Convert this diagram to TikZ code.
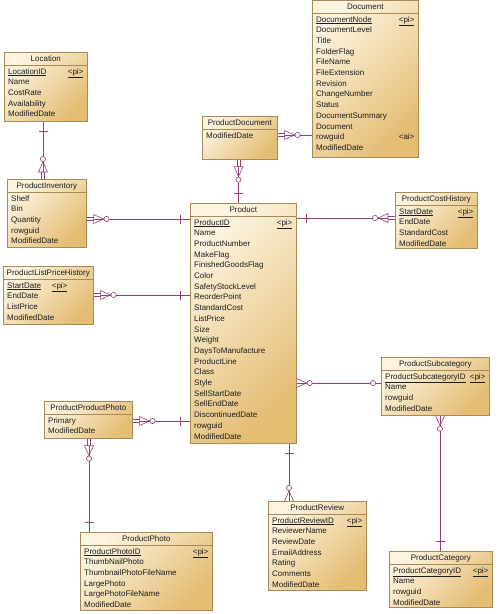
\documentclass[tikz,border=0pt]{standalone}
\usepackage{fontspec}
\newfontfamily\erdfont{Liberation Sans}
\usepackage{tikz}
\usetikzlibrary{calc}

\definecolor{entlight}{RGB}{252,244,224}
\definecolor{entdark}{RGB}{228,188,114}
\definecolor{entborder}{RGB}{168,138,88}
\definecolor{enttext}{RGB}{30,30,30}
\definecolor{relcol}{RGB}{150,62,112}

\tikzset{
  entbox/.style={
    draw=entborder, line width=0.6pt, anchor=north west, inner sep=0pt,
    top color=entlight, bottom color=entdark, shading angle=45
  },
  enttitle/.style={
    font=\erdfont\fontsize{8}{10}\selectfont, text=enttext,
    inner sep=0pt, text height=5.8pt, text depth=1.7pt
  },
  entrow/.style={
    font=\erdfont\fontsize{8}{10}\selectfont, text=enttext, anchor=west,
    inner sep=0pt, text height=5.8pt, text depth=1.7pt
  },
  entkey/.style={entrow, anchor=east},
  entsep/.style={draw=entborder, line width=0.6pt},
  relline/.style={draw=relcol, line width=0.6pt},
  depmany/.pic={
    \draw[relline] (0,-1.4) -- (7,-1.4) (0,1.4) -- (7,1.4);
    \draw[relline] (7,-4.5) -- (7,4.5) -- (17,0) -- cycle;
    \draw[relline, fill=white] (20,0) circle (2.6pt);
  },
  manyend/.pic={
    \draw[relline] (0,-4.5) -- (10,0) -- (0,4.5);
    \draw[relline, fill=white] (13,0) circle (2.6pt);
  },
  oneend/.pic={\draw[relline] (10,-4.5) -- (10,4.5);},
  optend/.pic={\draw[relline, fill=white] (8,0) circle (2.6pt);},
}

\begin{document}
\begin{tikzpicture}[x=1pt, y=-1pt]
  \useasboundingbox[fill=white] (0,0) rectangle (500,614);

  % ── Location ──
  \node[entbox, minimum width=83pt, minimum height=69pt] (loc) at (4,52) {};
  \node[enttitle] (loc-t) at ($(loc.north)+(0,7)$) {Location};
  \draw[entsep] ($(loc.north west)+(0,13.5)$) -- ($(loc.north east)+(0,13.5)$);
  \node[entrow] (loc-0) at ($(loc.north west)+(4,20)$) {\underline{LocationID}};
  \node[entkey] (loc-pi) at ($(loc.north east)+(-4,20)$) {\underline{<pi>}};
  \foreach \f [count=\i from 1] in {Name,CostRate,Availability,ModifiedDate}
    \node[entrow] (loc-\i) at ($(loc.north west)+(4,20+10.7*\i)$) {\f};

  % ── ProductInventory ──
  \node[entbox, minimum width=79pt, minimum height=68pt] (inv) at (7,179) {};
  \node[enttitle] (inv-t) at ($(inv.north)+(0,7)$) {ProductInventory};
  \draw[entsep] ($(inv.north west)+(0,13.5)$) -- ($(inv.north east)+(0,13.5)$);
  \foreach \f [count=\i from 0] in {Shelf,Bin,Quantity,rowguid,ModifiedDate}
    \node[entrow] (inv-\i) at ($(inv.north west)+(4,20+10.7*\i)$) {\f};

  % ── ProductListPriceHistory ──
  \node[entbox, minimum width=90pt, minimum height=58pt] (lph) at (3,266) {};
  \node[enttitle] (lph-t) at ($(lph.north)+(0,7)$) {ProductListPriceHistory};
  \draw[entsep] ($(lph.north west)+(0,13.5)$) -- ($(lph.north east)+(0,13.5)$);
  \node[entrow] (lph-0) at ($(lph.north west)+(4,20)$) {\underline{StartDate}};
  \node[entkey] (lph-pi) at ($(lph.north east)+(-26,20)$) {\underline{<pi>}};
  \foreach \f [count=\i from 1] in {EndDate,ListPrice,ModifiedDate}
    \node[entrow] (lph-\i) at ($(lph.north west)+(4,20+10.7*\i)$) {\f};

  % ── Document ──
  \node[entbox, minimum width=106pt, minimum height=157pt] (doc) at (312,0) {};
  \node[enttitle] (doc-t) at ($(doc.north)+(0,7)$) {Document};
  \draw[entsep] ($(doc.north west)+(0,13.5)$) -- ($(doc.north east)+(0,13.5)$);
  \node[entrow] (doc-0) at ($(doc.north west)+(4,20)$) {\underline{DocumentNode}};
  \node[entkey] (doc-pi) at ($(doc.north east)+(-4,20)$) {\underline{<pi>}};
  \foreach \f [count=\i from 1] in {DocumentLevel,Title,FolderFlag,FileName,
      FileExtension,Revision,ChangeNumber,Status,DocumentSummary,Document,
      rowguid,ModifiedDate}
    \node[entrow] (doc-\i) at ($(doc.north west)+(4,20+10.7*\i)$) {\f};
  \node[entkey] (doc-ai) at ($(doc.north east)+(-4,20+10.7*11)$) {<ai>};

  % ── ProductDocument ──
  \node[entbox, minimum width=75pt, minimum height=43pt] (pdoc) at (202,116) {};
  \node[enttitle] (pdoc-t) at ($(pdoc.north)+(0,7)$) {ProductDocument};
  \draw[entsep] ($(pdoc.north west)+(0,13.5)$) -- ($(pdoc.north east)+(0,13.5)$);
  \node[entrow] (pdoc-0) at ($(pdoc.north west)+(4,20)$) {ModifiedDate};

  % ── Product ──
  \node[entbox, minimum width=106pt, minimum height=240pt] (prod) at (190,203) {};
  \node[enttitle] (prod-t) at ($(prod.north)+(0,7)$) {Product};
  \draw[entsep] ($(prod.north west)+(0,13.5)$) -- ($(prod.north east)+(0,13.5)$);
  \node[entrow] (prod-0) at ($(prod.north west)+(4,20)$) {\underline{ProductID}};
  \node[entkey] (prod-pi) at ($(prod.north east)+(-4,20)$) {\underline{<pi>}};
  \foreach \f [count=\i from 1] in {Name,ProductNumber,MakeFlag,FinishedGoodsFlag,
      Color,SafetyStockLevel,ReorderPoint,StandardCost,ListPrice,Size,Weight,
      DaysToManufacture,ProductLine,Class,Style,SellStartDate,SellEndDate,
      DiscontinuedDate,rowguid,ModifiedDate}
    \node[entrow] (prod-\i) at ($(prod.north west)+(4,20+10.7*\i)$) {\f};

  % ── ProductCostHistory ──
  \node[entbox, minimum width=82pt, minimum height=56pt] (cost) at (395,192) {};
  \node[enttitle] (cost-t) at ($(cost.north)+(0,7)$) {ProductCostHistory};
  \draw[entsep] ($(cost.north west)+(0,13.5)$) -- ($(cost.north east)+(0,13.5)$);
  \node[entrow] (cost-0) at ($(cost.north west)+(4,20)$) {\underline{StartDate}};
  \node[entkey] (cost-pi) at ($(cost.north east)+(-4,20)$) {\underline{<pi>}};
  \foreach \f [count=\i from 1] in {EndDate,StandardCost,ModifiedDate}
    \node[entrow] (cost-\i) at ($(cost.north west)+(4,20+10.7*\i)$) {\f};

  % ── ProductSubcategory ──
  \node[entbox, minimum width=108pt, minimum height=58pt] (subc) at (381,357) {};
  \node[enttitle] (subc-t) at ($(subc.north)+(0,7)$) {ProductSubcategory};
  \draw[entsep] ($(subc.north west)+(0,13.5)$) -- ($(subc.north east)+(0,13.5)$);
  \node[entrow] (subc-0) at ($(subc.north west)+(4,20)$) {\underline{ProductSubcategoryID}};
  \node[entkey] (subc-pi) at ($(subc.north east)+(-4,20)$) {\underline{<pi>}};
  \foreach \f [count=\i from 1] in {Name,rowguid,ModifiedDate}
    \node[entrow] (subc-\i) at ($(subc.north west)+(4,20+10.7*\i)$) {\f};

  % ── ProductProductPhoto ──
  \node[entbox, minimum width=88pt, minimum height=37pt] (ppho) at (44,401) {};
  \node[enttitle] (ppho-t) at ($(ppho.north)+(0,7)$) {ProductProductPhoto};
  \draw[entsep] ($(ppho.north west)+(0,13.5)$) -- ($(ppho.north east)+(0,13.5)$);
  \foreach \f [count=\i from 0] in {Primary,ModifiedDate}
    \node[entrow] (ppho-\i) at ($(ppho.north west)+(4,20+10.7*\i)$) {\f};

  % ── ProductPhoto ──
  \node[entbox, minimum width=132pt, minimum height=78pt] (pho) at (80,532) {};
  \node[enttitle] (pho-t) at ($(pho.north)+(0,7)$) {ProductPhoto};
  \draw[entsep] ($(pho.north west)+(0,13.5)$) -- ($(pho.north east)+(0,13.5)$);
  \node[entrow] (pho-0) at ($(pho.north west)+(4,20)$) {\underline{ProductPhotoID}};
  \node[entkey] (pho-pi) at ($(pho.north east)+(-4,20)$) {\underline{<pi>}};
  \foreach \f [count=\i from 1] in {ThumbNailPhoto,ThumbnailPhotoFileName,
      LargePhoto,LargePhotoFileName,ModifiedDate}
    \node[entrow] (pho-\i) at ($(pho.north west)+(4,20+10.7*\i)$) {\f};

  % ── ProductReview ──
  \node[entbox, minimum width=98pt, minimum height=89pt] (rev) at (268,501) {};
  \node[enttitle] (rev-t) at ($(rev.north)+(0,7)$) {ProductReview};
  \draw[entsep] ($(rev.north west)+(0,13.5)$) -- ($(rev.north east)+(0,13.5)$);
  \node[entrow] (rev-0) at ($(rev.north west)+(4,20)$) {\underline{ProductReviewID}};
  \node[entkey] (rev-pi) at ($(rev.north east)+(-4,20)$) {\underline{<pi>}};
  \foreach \f [count=\i from 1] in {ReviewerName,ReviewDate,EmailAddress,Rating,
      Comments,ModifiedDate}
    \node[entrow] (rev-\i) at ($(rev.north west)+(4,20+10.7*\i)$) {\f};

  % ── ProductCategory ──
  \node[entbox, minimum width=103pt, minimum height=56pt] (cat) at (389,551) {};
  \node[enttitle] (cat-t) at ($(cat.north)+(0,7)$) {ProductCategory};
  \draw[entsep] ($(cat.north west)+(0,13.5)$) -- ($(cat.north east)+(0,13.5)$);
  \node[entrow] (cat-0) at ($(cat.north west)+(4,20)$) {\underline{ProductCategoryID}};
  \node[entkey] (cat-pi) at ($(cat.north east)+(-4,20)$) {\underline{<pi>}};
  \foreach \f [count=\i from 1] in {Name,rowguid,ModifiedDate}
    \node[entrow] (cat-\i) at ($(cat.north west)+(4,20+10.7*\i)$) {\f};

  % ── References ──
  \draw[relline, shorten >=7pt] ($(loc.south west)+(39,0)$) -- ($(inv.north west)+(36,0)$);
  \pic[rotate=90] at ($(inv.north west)+(36,0)$) {depmany};
  \pic[rotate=-90] at ($(loc.south west)+(39,0)$) {oneend};

  \draw[relline, shorten <=7pt] ($(inv.north east)+(0,40)$) -- ($(prod.north west)+(0,16)$);
  \pic at ($(inv.north east)+(0,40)$) {depmany};
  \pic[rotate=180] at ($(prod.north west)+(0,16)$) {oneend};

  \draw[relline, shorten <=7pt] ($(lph.north east)+(0,29)$) -- ($(prod.north west)+(0,92)$);
  \pic at ($(lph.north east)+(0,29)$) {depmany};
  \pic[rotate=180] at ($(prod.north west)+(0,92)$) {oneend};

  \draw[relline, shorten <=7pt] ($(ppho.north east)+(0,20)$) -- ($(prod.north west)+(0,218)$);
  \pic at ($(ppho.north east)+(0,20)$) {depmany};
  \pic[rotate=180] at ($(prod.north west)+(0,218)$) {oneend};

  \draw[relline, shorten <=7pt] ($(cost.north west)+(0,26)$) -- ($(prod.north east)+(0,15)$);
  \pic[rotate=180] at ($(cost.north west)+(0,26)$) {depmany};
  \pic at ($(prod.north east)+(0,15)$) {oneend};

  \draw[relline, shorten <=7pt] ($(pdoc.north east)+(0,19)$) -- ($(doc.north west)+(0,135)$);
  \pic at ($(pdoc.north east)+(0,19)$) {depmany};

  \draw[relline, shorten <=7pt] ($(pdoc.south west)+(36.5,0)$) -- ($(prod.north west)+(48.5,0)$);
  \pic[rotate=-90] at ($(pdoc.south west)+(36.5,0)$) {depmany};
  \pic[rotate=90] at ($(prod.north west)+(48.5,0)$) {oneend};

  \draw[relline] ($(prod.north east)+(0,180)$) -- ($(subc.north west)+(0,26)$);
  \pic at ($(prod.north east)+(0,180)$) {manyend};
  \pic[rotate=180] at ($(subc.north west)+(0,26)$) {optend};

  \draw[relline] ($(subc.south west)+(59,0)$) -- ($(cat.north west)+(51,0)$);
  \pic[rotate=-90] at ($(subc.south west)+(59,0)$) {manyend};
  \pic[rotate=90] at ($(cat.north west)+(51,0)$) {oneend};

  \draw[relline, shorten <=7pt] ($(ppho.south west)+(45,0)$) -- ($(pho.north west)+(9,0)$);
  \pic[rotate=-90] at ($(ppho.south west)+(45,0)$) {depmany};
  \pic[rotate=90] at ($(pho.north west)+(9,0)$) {oneend};

  \draw[relline] ($(rev.north west)+(21,0)$) -- ($(prod.south west)+(99,0)$);
  \pic[rotate=90] at ($(rev.north west)+(21,0)$) {manyend};
  \pic[rotate=-90] at ($(prod.south west)+(99,0)$) {oneend};
\end{tikzpicture}
\end{document}
